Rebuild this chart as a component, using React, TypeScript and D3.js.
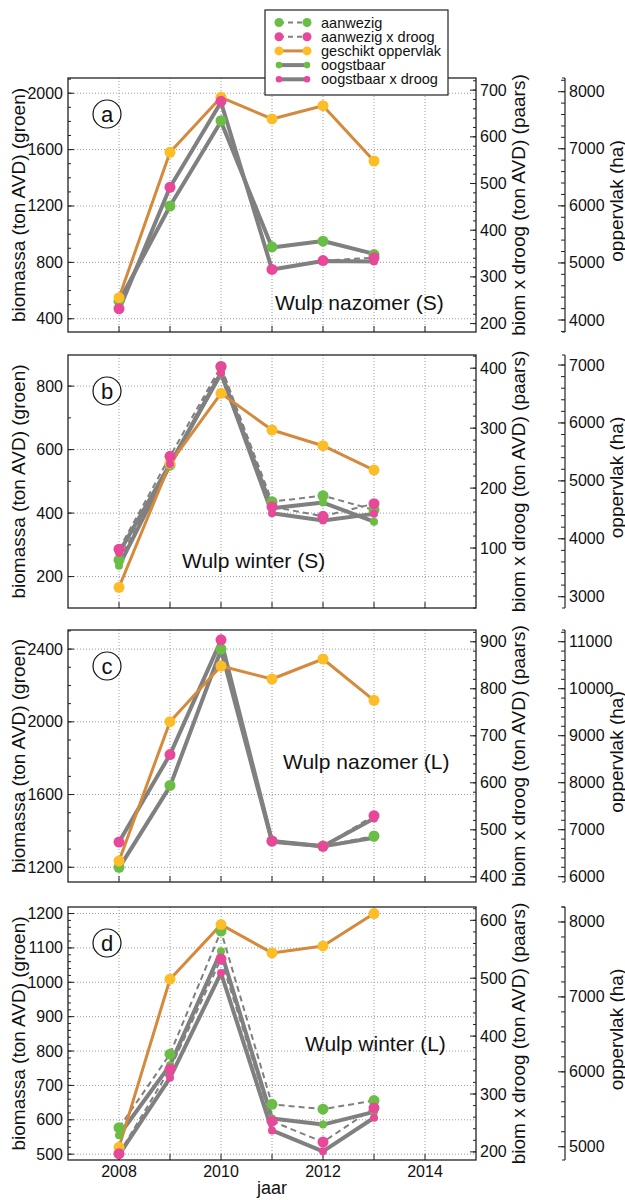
import React from 'react';
import * as d3 from 'd3';

// ---------- data ----------
const years = [2008, 2009, 2010, 2011, 2012, 2013];
const gridYears = [2008, 2009, 2010, 2011, 2012, 2013, 2014];
const xTickLabels = [2008, 2010, 2012, 2014];

// panel a: Wulp nazomer (S)
const aanwezigA = [525, 1200, 1805, 910, 950, 855];
const aanwezigDroogA = [232, 492, 676, 316, 335, 341];
const geschiktA = [4392, 6939, 7902, 7522, 7755, 6786];
const oogstbaarA = [521, 1200, 1800, 905, 952, 860];
const oogstbaarDroogA = [229, 492, 674, 316, 334, 333];

// panel b: Wulp winter (S)
const aanwezigB = [252, 551, 861, 436, 455, 410];
const aanwezigDroogB = [98, 253, 403, 169, 153, 174];
const geschiktB = [3163, 5303, 6512, 5878, 5607, 5187];
const oogstbaarB = [234, 551, 840, 415, 433, 373];
const oogstbaarDroogB = [92, 240, 392, 158, 146, 157];

// panel c: Wulp nazomer (L)
const aanwezigC = [1200, 1650, 2400, 1344, 1317, 1372];
const aanwezigDroogC = [474, 660, 904, 476, 465, 530];
const geschiktC = [6334, 9298, 10483, 10206, 10632, 9753];
const oogstbaarC = [1195, 1645, 2395, 1340, 1315, 1362];
const oogstbaarDroogC = [474, 660, 903, 476, 465, 524];

// panel d: Wulp winter (L)
const aanwezigD = [577, 791, 1149, 645, 631, 656];
const aanwezigDroogD = [197, 343, 533, 253, 217, 276];
const geschiktD = [4992, 7236, 7965, 7587, 7680, 8112];
const oogstbaarD = [555, 759, 1090, 604, 586, 623];
const oogstbaarDroogD = [195, 328, 509, 237, 201, 259];

// tick values
const leftTicksA = [400, 800, 1200, 1600, 2000];
const rightTicksA = [200, 300, 400, 500, 600, 700];
const thirdTicksA = [4000, 5000, 6000, 7000, 8000];
const leftTicksB = [200, 400, 600, 800];
const rightTicksB = [100, 200, 300, 400];
const thirdTicksB = [3000, 4000, 5000, 6000, 7000];
const leftTicksC = [1200, 1600, 2000, 2400];
const rightTicksC = [400, 500, 600, 700, 800, 900];
const thirdTicksC = [6000, 7000, 8000, 9000, 10000, 11000];
const leftTicksD = [500, 600, 700, 800, 900, 1000, 1100, 1200];
const rightTicksD = [200, 300, 400, 500, 600];
const thirdTicksD = [5000, 6000, 7000, 8000];

const legendLabels = ['aanwezig', 'aanwezig x droog', 'geschikt oppervlak', 'oogstbaar', 'oogstbaar x droog'];

// ---------- style ----------
const GREEN = '#6BBE45';
const PINK = '#E8489A';
const YELLOW = '#FDBD26';
const ORANGE = '#D4893C';
const GRAY = '#808080';
const FONT = '"Liberation Sans", Arial, Helvetica, sans-serif';

const X0 = 68, X1 = 476, AX3 = 565;
const x = d3.scaleLinear().domain([2007, 2015]).range([X0, X1]);

type Axis = { domain: number[]; ticks: number[]; minor: number };
type Panel = {
  id: string; top: number; bottom: number;
  left: Axis; right: Axis; third: Axis;
  aan: number[]; aanD: number[]; ges: number[]; oog: number[]; oogD: number[];
  title: string; titleX: number; titleY: number; xLabels: boolean;
};

const panels: Panel[] = [
  { id: 'a', top: 78, bottom: 332,
    left: { domain: [306, 2108], ticks: leftTicksA, minor: 100 },
    right: { domain: [182, 726], ticks: rightTicksA, minor: 20 },
    third: { domain: [3790, 8240], ticks: thirdTicksA, minor: 200 },
    aan: aanwezigA, aanD: aanwezigDroogA, ges: geschiktA, oog: oogstbaarA, oogD: oogstbaarDroogA,
    title: 'Wulp nazomer (S)', titleX: 275, titleY: 310, xLabels: false },
  { id: 'b', top: 355, bottom: 608,
    left: { domain: [101, 898], ticks: leftTicksB, minor: 100 },
    right: { domain: [0, 422], ticks: rightTicksB, minor: 20 },
    third: { domain: [2805, 7173], ticks: thirdTicksB, minor: 200 },
    aan: aanwezigB, aanD: aanwezigDroogB, ges: geschiktB, oog: oogstbaarB, oogD: oogstbaarDroogB,
    title: 'Wulp winter (S)', titleX: 182, titleY: 568, xLabels: false },
  { id: 'c', top: 630, bottom: 882,
    left: { domain: [1119, 2505], ticks: leftTicksC, minor: 100 },
    right: { domain: [389, 925], ticks: rightTicksC, minor: 20 },
    third: { domain: [5887, 11249], ticks: thirdTicksC, minor: 200 },
    aan: aanwezigC, aanD: aanwezigDroogC, ges: geschiktC, oog: oogstbaarC, oogD: oogstbaarDroogC,
    title: 'Wulp nazomer (L)', titleX: 283, titleY: 769, xLabels: false },
  { id: 'd', top: 907, bottom: 1160,
    left: { domain: [483, 1219], ticks: leftTicksD, minor: 20 },
    right: { domain: [186, 623], ticks: rightTicksD, minor: 20 },
    third: { domain: [4823, 8200], ticks: thirdTicksD, minor: 200 },
    aan: aanwezigD, aanD: aanwezigDroogD, ges: geschiktD, oog: oogstbaarD, oogD: oogstbaarDroogD,
    title: 'Wulp winter (L)', titleX: 305, titleY: 1051, xLabels: true },
];

function minorTicks(a: Axis) {
  const lo = Math.ceil(a.domain[0] / a.minor) * a.minor;
  return d3.range(lo, a.domain[1] + 1e-9, a.minor);
}

function PanelView({ p }: { p: Panel }) {
  const yl = d3.scaleLinear().domain(p.left.domain).range([p.bottom, p.top]);
  const yr = d3.scaleLinear().domain(p.right.domain).range([p.bottom, p.top]);
  const y3 = d3.scaleLinear().domain(p.third.domain).range([p.bottom, p.top]);
  const mid = (p.top + p.bottom) / 2;
  const line = (ys: d3.ScaleLinear<number, number>, vals: number[]) =>
    d3.line<number>().x((_, i) => x(years[i])).y((v) => ys(v))(vals) || '';
  const dots = (ys: d3.ScaleLinear<number, number>, vals: number[], color: string, r: number) =>
    vals.map((v, i) => <circle key={i} cx={x(years[i])} cy={ys(v)} r={r} fill={color} />);
  return (
    <g>
      {/* grid */}
      {gridYears.map((yr0) => (
        <line key={'gx' + yr0} x1={x(yr0)} x2={x(yr0)} y1={p.top} y2={p.bottom} stroke="#9a9a9a" strokeWidth={1} strokeDasharray="1,2" />
      ))}
      {p.left.ticks.map((t) => (
        <line key={'gy' + t} x1={X0} x2={X1} y1={yl(t)} y2={yl(t)} stroke="#9a9a9a" strokeWidth={1} strokeDasharray="1,2" />
      ))}
      {/* left ticks inward */}
      {minorTicks(p.left).map((t) => (
        <line key={'lm' + t} x1={X0} x2={X0 + 3} y1={yl(t)} y2={yl(t)} stroke="#222" strokeWidth={1} />
      ))}
      {p.left.ticks.map((t) => (
        <g key={'lt' + t}>
          <line x1={X0} x2={X0 + 6} y1={yl(t)} y2={yl(t)} stroke="#222" strokeWidth={1} />
          <text x={X0 - 5} y={yl(t)} textAnchor="end" dominantBaseline="central" fontSize={16} fill="#111">{t}</text>
        </g>
      ))}
      {/* right ticks inward */}
      {minorTicks(p.right).map((t) => (
        <line key={'rm' + t} x1={X1} x2={X1 - 3} y1={yr(t)} y2={yr(t)} stroke="#222" strokeWidth={1} />
      ))}
      {p.right.ticks.map((t) => (
        <g key={'rt' + t}>
          <line x1={X1} x2={X1 - 6} y1={yr(t)} y2={yr(t)} stroke="#222" strokeWidth={1} />
          <text x={X1 + 4} y={yr(t)} textAnchor="start" dominantBaseline="central" fontSize={16} fill="#111">{t}</text>
        </g>
      ))}
      {/* bottom ticks */}
      {gridYears.map((yr0) => (
        <line key={'bt' + yr0} x1={x(yr0)} x2={x(yr0)} y1={p.bottom} y2={p.bottom - 6} stroke="#222" strokeWidth={1} />
      ))}
      {/* third axis */}
      <line x1={AX3} x2={AX3} y1={p.top} y2={p.bottom} stroke="#222" strokeWidth={1.2} />
      <line x1={AX3} x2={AX3 - 3} y1={p.top} y2={p.top} stroke="#222" strokeWidth={1} />
      <line x1={AX3} x2={AX3 - 3} y1={p.bottom} y2={p.bottom} stroke="#222" strokeWidth={1} />
      {minorTicks(p.third).map((t) => (
        <line key={'tm' + t} x1={AX3} x2={AX3 - 4} y1={y3(t)} y2={y3(t)} stroke="#222" strokeWidth={1} />
      ))}
      {p.third.ticks.map((t) => (
        <g key={'tt' + t}>
          <line x1={AX3} x2={AX3 - 7} y1={y3(t)} y2={y3(t)} stroke="#222" strokeWidth={1} />
          <text x={AX3 + 4} y={y3(t)} textAnchor="start" dominantBaseline="central" fontSize={16} fill="#111">{t}</text>
        </g>
      ))}
      {/* axis titles */}
      <text transform={`translate(18,${mid}) rotate(-90)`} textAnchor="middle" dominantBaseline="central" fontSize={19} fill="#111">biomassa (ton AVD) (groen)</text>
      <text transform={`translate(518,${mid}) rotate(-90)`} textAnchor="middle" dominantBaseline="central" fontSize={19} fill="#111">biom x droog (ton AVD) (paars)</text>
      <text transform={`translate(616,${mid - 4}) rotate(-90)`} textAnchor="middle" dominantBaseline="central" fontSize={19} fill="#111">oppervlak (ha)</text>
      {/* lines */}
      <path d={line(yl, p.aan)} fill="none" stroke={GRAY} strokeWidth={2} strokeDasharray="6,4" />
      <path d={line(yr, p.aanD)} fill="none" stroke={GRAY} strokeWidth={2} strokeDasharray="6,4" />
      <path d={line(yl, p.oog)} fill="none" stroke={GRAY} strokeWidth={4} strokeLinejoin="round" />
      <path d={line(yr, p.oogD)} fill="none" stroke={GRAY} strokeWidth={4} strokeLinejoin="round" />
      <path d={line(y3, p.ges)} fill="none" stroke={ORANGE} strokeWidth={3} strokeLinejoin="round" />
      {/* markers */}
      {dots(yl, p.aan, GREEN, 5.5)}
      {dots(yl, p.oog, GREEN, 4)}
      {dots(y3, p.ges, YELLOW, 5.5)}
      {dots(yr, p.aanD, PINK, 5.5)}
      {dots(yr, p.oogD, PINK, 4)}
      {/* frame */}
      <rect x={X0} y={p.top} width={X1 - X0} height={p.bottom - p.top} fill="none" stroke="#222" strokeWidth={1.3} />
      {/* panel letter */}
      <circle cx={107} cy={p.top + 36} r={14} fill="white" stroke="#111" strokeWidth={1.2} />
      <text x={107} y={p.top + 36} textAnchor="middle" dominantBaseline="central" fontSize={22} fill="#111">{p.id}</text>
      {/* title */}
      <text x={p.titleX} y={p.titleY} fontSize={21} fill="#111">{p.title}</text>
      {p.xLabels && (
        <g>
          {xTickLabels.map((t) => (
            <text key={'xl' + t} x={x(t)} y={1177} textAnchor="middle" fontSize={16} fill="#111">{t}</text>
          ))}
          <text x={272} y={1194} textAnchor="middle" fontSize={18} fill="#111">jaar</text>
        </g>
      )}
    </g>
  );
}

function Legend() {
  const lx = 265, ly = 10, lw = 183, lh = 85;
  const rowY = (i: number) => 22.5 + i * 14.2;
  const styles = [
    { c: GREEN, r: 4.5, w: 2, dash: '5,4', lc: GRAY },
    { c: PINK, r: 4.5, w: 2, dash: '5,4', lc: GRAY },
    { c: YELLOW, r: 4.5, w: 3, dash: '', lc: ORANGE },
    { c: GREEN, r: 3.3, w: 4, dash: '', lc: GRAY },
    { c: PINK, r: 3.3, w: 4, dash: '', lc: GRAY },
  ];
  return (
    <g>
      <rect x={lx} y={ly} width={lw} height={lh} fill="white" stroke="#222" strokeWidth={1.2} />
      {legendLabels.map((lab, i) => (
        <g key={lab}>
          <line x1={279} x2={307} y1={rowY(i)} y2={rowY(i)} stroke={styles[i].lc} strokeWidth={styles[i].w} strokeDasharray={styles[i].dash || undefined} />
          <circle cx={279} cy={rowY(i)} r={styles[i].r} fill={styles[i].c} />
          <circle cx={307} cy={rowY(i)} r={styles[i].r} fill={styles[i].c} />
          <text x={321} y={rowY(i)} dominantBaseline="central" fontSize={14.5} fill="#111">{lab}</text>
        </g>
      ))}
    </g>
  );
}

export default function App() {
  return (
    <svg width={625} height={1200} style={{ position: 'absolute', left: 0, top: 0, background: 'white' }} fontFamily={FONT}>
      <rect x={0} y={0} width={625} height={1200} fill="white" />
      {panels.map((p) => <PanelView key={p.id} p={p} />)}
      <Legend />
    </svg>
  );
}
